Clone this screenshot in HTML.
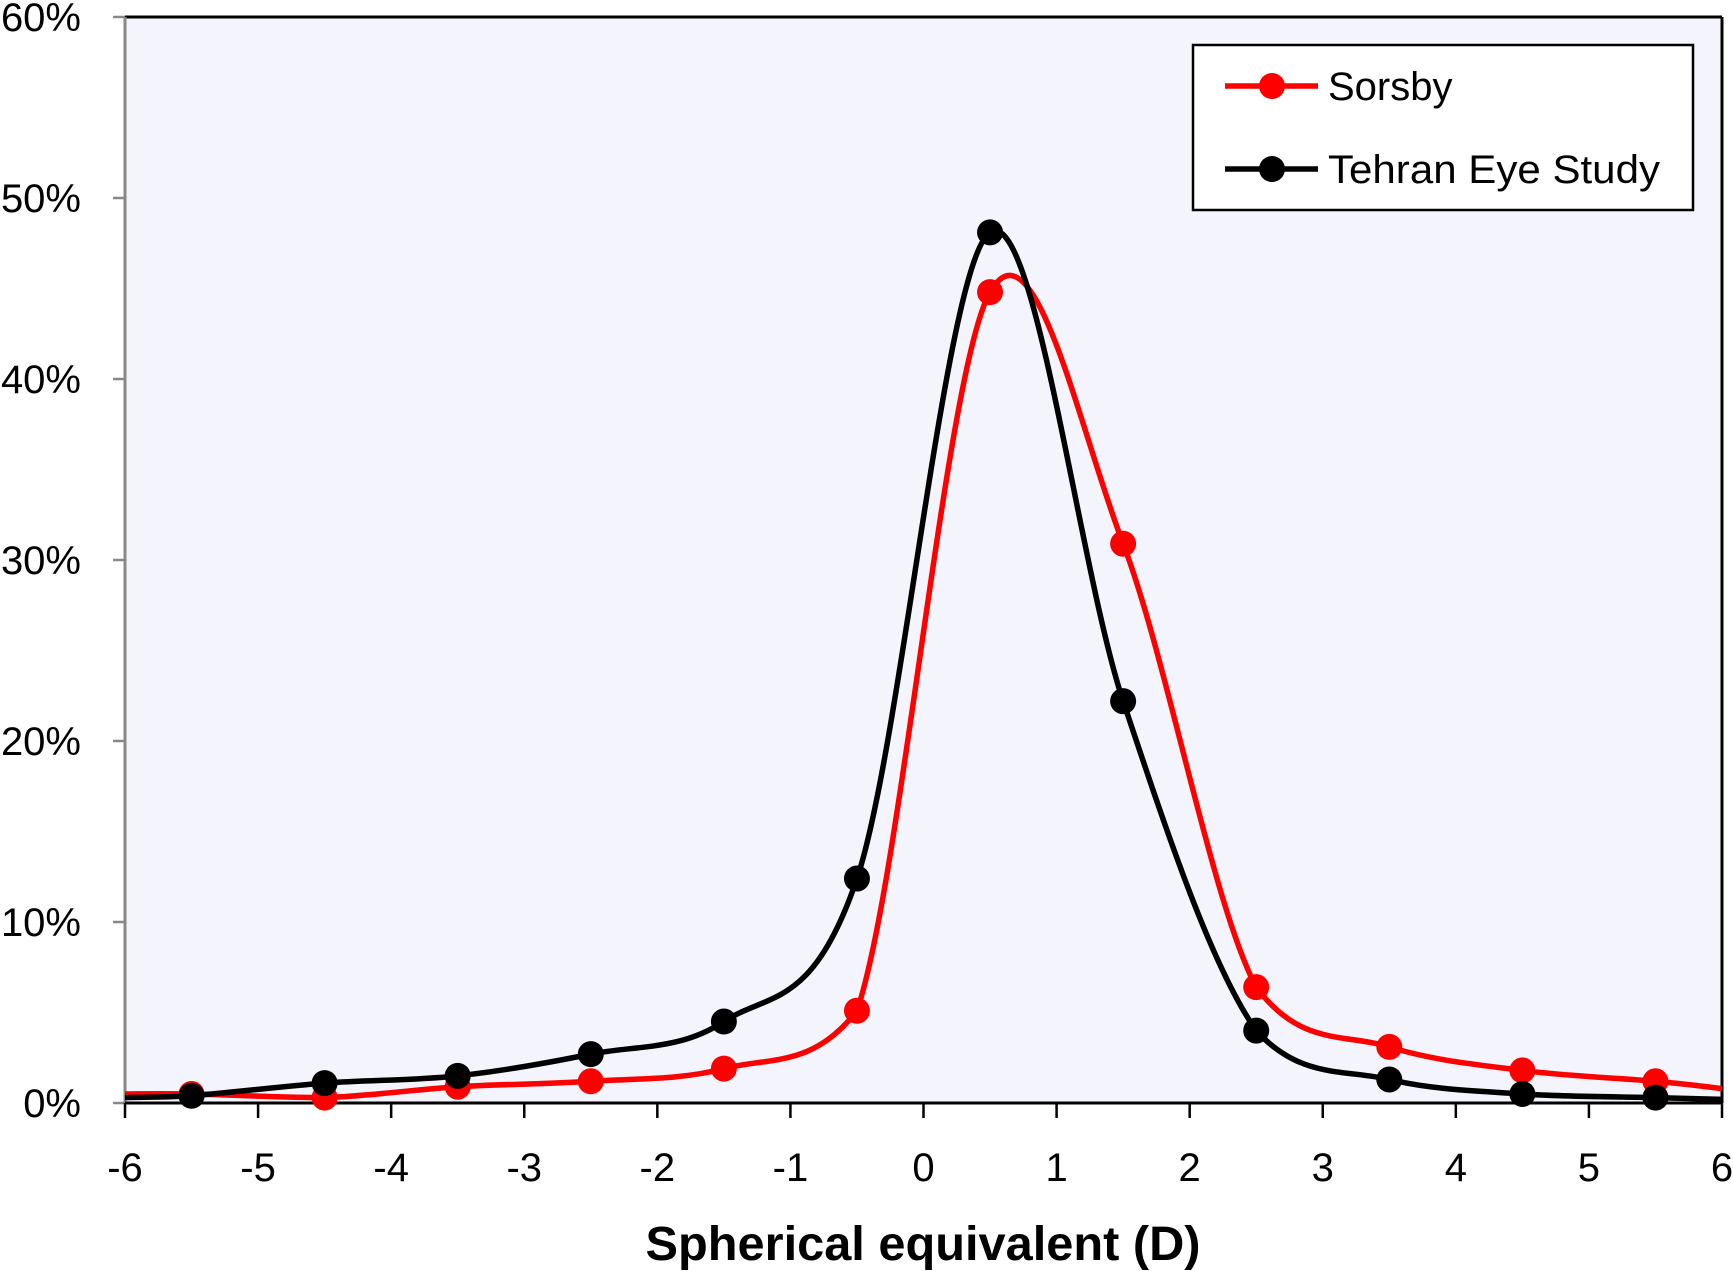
<!DOCTYPE html>
<html><head><meta charset="utf-8"><style>
html,body{margin:0;padding:0;background:#fff;}
svg{display:block;font-family:"Liberation Sans",sans-serif;}
</style></head><body>
<svg id="chart" width="1733" height="1271">
<rect x="125" y="17" width="1597" height="1086" fill="#f3f4fc"/>
<g id="axes"></g>
<g id="series"></g>
<g>
<rect x="1193" y="45" width="500" height="165" fill="#fff" stroke="#000" stroke-width="2.5"/>
<g>
<line x1="1225" y1="86" x2="1318" y2="86" stroke="#ff0000" stroke-width="5.5"/>
<circle cx="1272" cy="86" r="13" fill="#ff0000"/>
<text x="1328" y="100" font-size="40">Sorsby</text></g>
<g>
<line x1="1225" y1="169" x2="1318" y2="169" stroke="#000" stroke-width="5.5"/>
<circle cx="1272" cy="169" r="13" fill="#000"/>
<text x="1328" y="183" font-size="40" textLength="332" lengthAdjust="spacingAndGlyphs">Tehran Eye Study</text></g>
</g>
<text x="923" y="1260" font-size="48" font-weight="bold" text-anchor="middle" textLength="555" lengthAdjust="spacingAndGlyphs">Spherical equivalent (D)</text>
</svg>
<script>
const xCats = [-5.5,-4.5,-3.5,-2.5,-1.5,-0.5,0.5,1.5,2.5,3.5,4.5,5.5];
const sorsby = [0.5,0.3,0.9,1.2,1.9,5.1,44.8,30.9,6.4,3.1,1.8,1.2];
const tehran = [0.4,1.1,1.5,2.7,4.5,12.4,48.1,22.2,4.0,1.3,0.5,0.3];
const sorsbyEnds = [0.5,0.8];
const tehranEnds = [0.3,0.2];
const xTicks = [-6,-5,-4,-3,-2,-1,0,1,2,3,4,5,6];
const yTicks = [0,10,20,30,40,50,60];
const L=125,R=1722,T=17,B=1103;
const sx=v=>L+(v+6)/12*(R-L);
const sy=v=>B-v/60*(B-T);
const NS="http://www.w3.org/2000/svg";
function mk(tag,attrs,parent){const e=document.createElementNS(NS,tag);for(const k in attrs)e.setAttribute(k,attrs[k]);parent.appendChild(e);return e;}
const axes=document.getElementById('axes');
mk('line',{x1:L,y1:T,x2:R,y2:T,stroke:'#000','stroke-width':3},axes);
mk('line',{x1:R,y1:T,x2:R,y2:B,stroke:'#000','stroke-width':3},axes);
mk('line',{x1:L,y1:T,x2:L,y2:B,stroke:'#888','stroke-width':3},axes);
mk('line',{x1:L,y1:B,x2:R,y2:B,stroke:'#000','stroke-width':3},axes);
yTicks.forEach(v=>{
  const t=mk('line',{x1:L-12,y1:sy(v),x2:L,y2:sy(v),stroke:'#888','stroke-width':2.5},axes);
  
  
  const l=mk('text',{x:81,y:sy(v)+14,'font-size':40,'text-anchor':'end'},axes);
  l.textContent=v+'%';
  
  
});
xTicks.forEach(v=>{
  const t=mk('line',{x1:sx(v),y1:B,x2:sx(v),y2:B+15,stroke:'#000','stroke-width':2.5},axes);
  
  
  const l=mk('text',{x:sx(v),y:1181,'font-size':40,'text-anchor':'middle'},axes);
  l.textContent=v;
  
  
});
function smooth(pts){
  let d='M'+pts[0][0]+','+pts[0][1];
  for(let i=0;i<pts.length-1;i++){
    const p0=pts[Math.max(0,i-1)],p1=pts[i],p2=pts[i+1],p3=pts[Math.min(pts.length-1,i+2)];
    const c1=[p1[0]+(p2[0]-p0[0])/6,p1[1]+(p2[1]-p0[1])/6];
    const c2=[p2[0]-(p3[0]-p1[0])/6,p2[1]-(p3[1]-p1[1])/6];
    const lowY=Math.max(p1[1],p2[1]);
    c1[1]=Math.min(c1[1],lowY); c2[1]=Math.min(c2[1],lowY);
    d+=' C'+c1+' '+c2+' '+p2;
  }
  return d;
}
const sg=document.getElementById('series');
function draw(vals,ends,color,name){
  const g=mk('g',{},sg);
  
  
  const pts=[[sx(-6),sy(ends[0])]].concat(xCats.map((x,i)=>[sx(x),sy(vals[i])])).concat([[sx(6),sy(ends[1])]]);
  const p=mk('path',{d:smooth(pts),fill:'none',stroke:color,'stroke-width':5.5},g);
  
  
  xCats.forEach((x,i)=>{
    const c=mk('circle',{cx:sx(x),cy:sy(vals[i]),r:13,fill:color},g);
    
    
  });
}
draw(sorsby,sorsbyEnds,'#ff0000','sorsby-series');
draw(tehran,tehranEnds,'#000000','tehran-series');
</script>
</body></html>
